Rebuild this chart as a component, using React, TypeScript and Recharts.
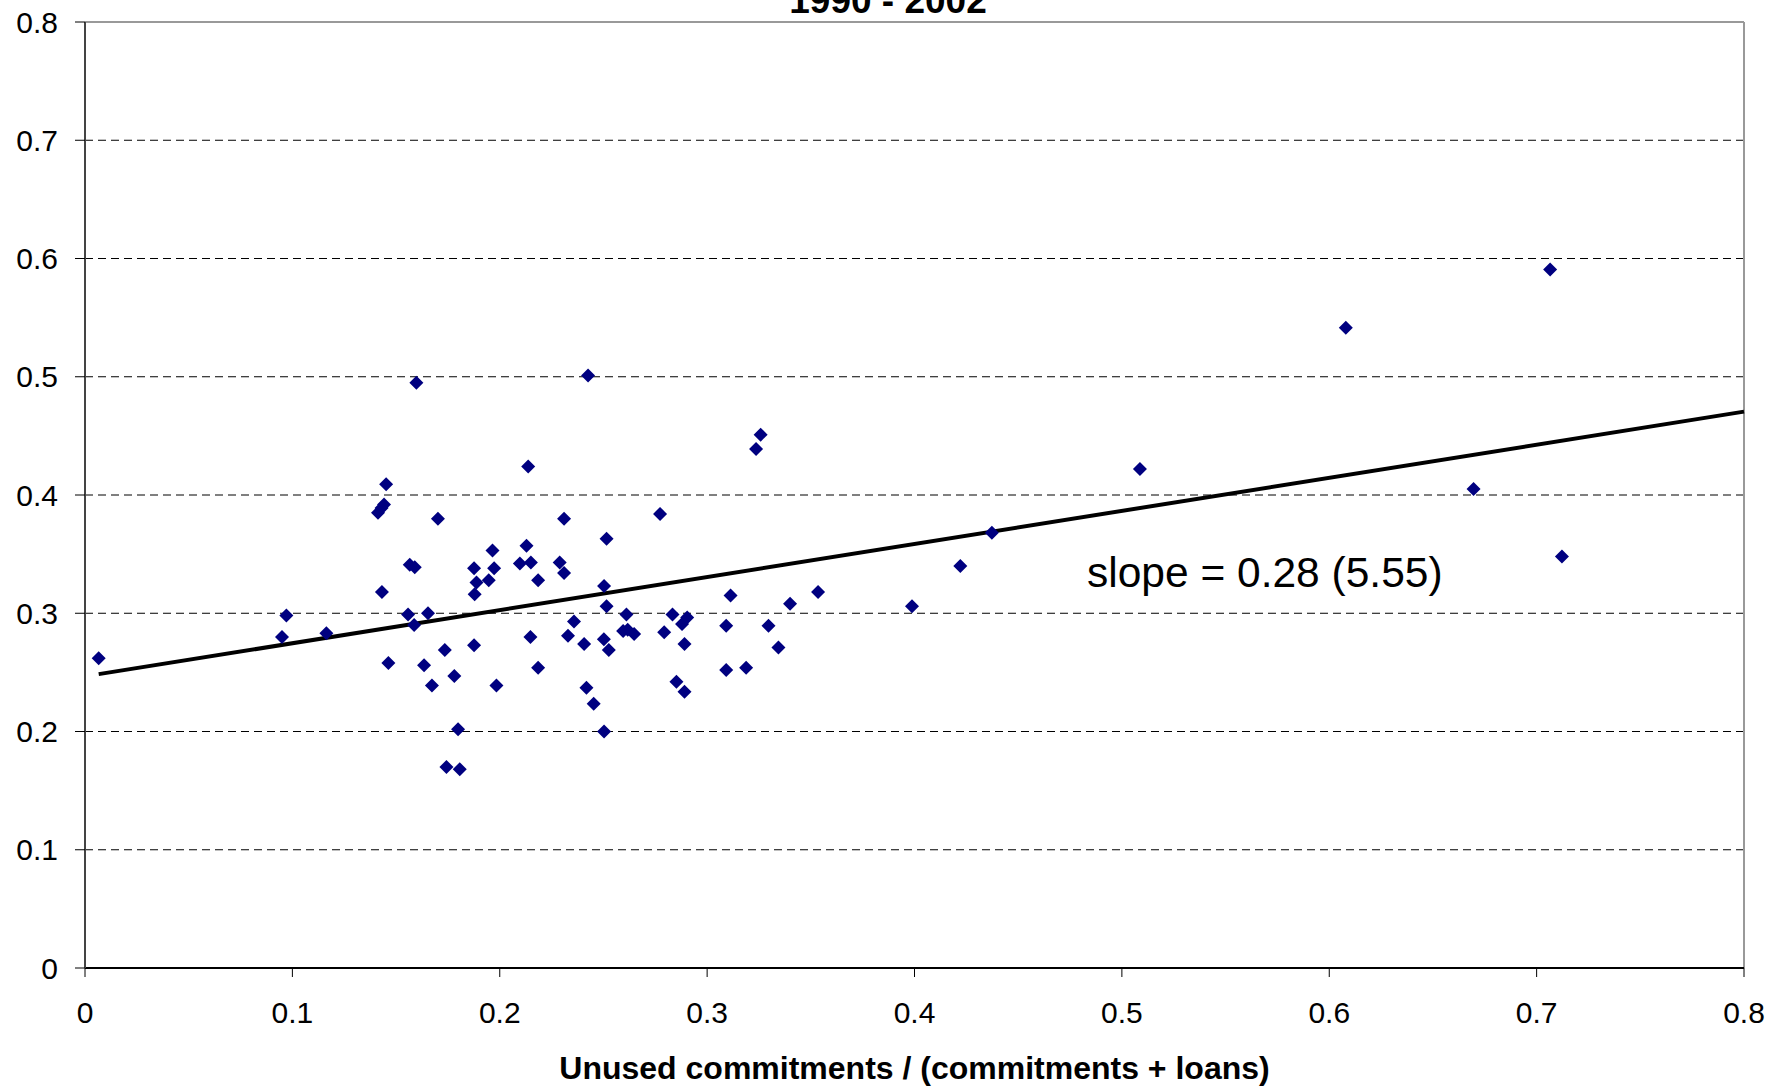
import {
  ScatterChart,
  Scatter,
  XAxis,
  YAxis,
  ReferenceLine,
  Label,
} from 'recharts'

// unused commitments / (commitments + loans)
const xs = [
  0.0066, 0.0971, 0.095, 0.1164, 0.1452, 0.1442, 0.143, 0.1413, 0.1598, 0.1702,
  0.1566, 0.159, 0.1432, 0.1558, 0.1654, 0.1587, 0.1463, 0.1735, 0.1635, 0.1673,
  0.1781, 0.1799, 0.1743, 0.1807, 0.1876, 0.1888, 0.1879, 0.1876, 0.1947, 0.1965,
  0.1973, 0.1984, 0.2137, 0.2129, 0.2097, 0.215, 0.2185, 0.2148, 0.2185, 0.231,
  0.2289, 0.231, 0.2358, 0.2329, 0.2407, 0.2418, 0.2453, 0.2426, 0.2503, 0.2515,
  0.2503, 0.2515, 0.2502, 0.2526, 0.2611, 0.2595, 0.2617, 0.2648, 0.2773, 0.2793,
  0.2833, 0.2904, 0.2879, 0.2891, 0.2852, 0.2891, 0.3258, 0.3236, 0.3113, 0.3092,
  0.3092, 0.3188, 0.3296, 0.3344, 0.34, 0.3535, 0.3988, 0.4221, 0.4373, 0.5087,
  0.608, 0.6696, 0.7065, 0.7122,
]
// y value
const ys = [
  0.262, 0.298, 0.28, 0.283, 0.409, 0.392, 0.389, 0.385, 0.495, 0.38,
  0.341, 0.339, 0.318, 0.299, 0.3, 0.29, 0.258, 0.269, 0.256, 0.239,
  0.247, 0.202, 0.17, 0.168, 0.338, 0.326, 0.316, 0.273, 0.328, 0.353,
  0.338, 0.239, 0.424, 0.357, 0.342, 0.343, 0.328, 0.28, 0.254, 0.38,
  0.343, 0.334, 0.293, 0.281, 0.274, 0.237, 0.2235, 0.501, 0.2, 0.363,
  0.323, 0.306, 0.278, 0.269, 0.299, 0.285, 0.286, 0.2825, 0.384, 0.284,
  0.299, 0.2965, 0.291, 0.274, 0.242, 0.2336, 0.451, 0.439, 0.315, 0.2895,
  0.252, 0.254, 0.2895, 0.271, 0.308, 0.318, 0.306, 0.34, 0.368, 0.422,
  0.5415, 0.405, 0.5906, 0.348,
]

const ticks = [0, 0.1, 0.2, 0.3, 0.4, 0.5, 0.6, 0.7, 0.8]
const gridValues = [0.1, 0.2, 0.3, 0.4, 0.5, 0.6, 0.7]

// fitted line end points
const trendX = [0.0066, 0.8]
const trendY = [0.2485, 0.4705]

const points = xs.map((x, i) => ({ x, y: ys[i] }))

const FONT = '"Liberation Sans", Arial, sans-serif'

function Diamond(props: any) {
  const { cx, cy } = props
  if (cx == null || cy == null) return null
  const r = 7
  return (
    <path
      d={`M${cx},${cy - r}L${cx + r},${cy}L${cx},${cy + r}L${cx - r},${cy}Z`}
      fill="#000080"
    />
  )
}

export default function App() {
  return (
    <div
      style={{
        position: 'absolute',
        left: 0,
        top: 0,
        width: 1786,
        height: 1086,
        overflow: 'hidden',
        background: '#fff',
        fontFamily: FONT,
      }}
    >
      {/* chart title, mostly cut off at the top */}
      <div
        style={{
          position: 'absolute',
          top: -18,
          left: 888,
          transform: 'translateX(-50%)',
          fontSize: 37,
          lineHeight: '37px',
          fontWeight: 'bold',
          whiteSpace: 'nowrap',
          color: '#000',
        }}
      >
        1990 - 2002
      </div>

      <ScatterChart
        width={1786}
        height={1086}
        margin={{ top: 22, right: 42, bottom: 0, left: 0 }}
      >
        <XAxis
          type="number"
          dataKey="x"
          domain={[0, 0.8]}
          ticks={ticks}
          interval={0}
          height={118}
          tickSize={9}
          tickMargin={25}
          tick={{ fontSize: 30, fill: '#000', fontFamily: FONT }}
          tickFormatter={(v: number) => String(v)}
          axisLine={{ stroke: '#000', strokeWidth: 2 }}
          tickLine={{ stroke: '#000', strokeWidth: 1 }}
        >
          <Label
            value="Unused commitments / (commitments + loans)"
            position="insideBottom"
            offset={7}
            style={{ fontSize: 32, fontWeight: 'bold', fill: '#000', fontFamily: FONT }}
          />
        </XAxis>
        <YAxis
          type="number"
          dataKey="y"
          domain={[0, 0.8]}
          ticks={ticks}
          interval={0}
          width={85}
          tickSize={10}
          tickMargin={17}
          tick={{ fontSize: 30, fill: '#000', fontFamily: FONT }}
          tickFormatter={(v: number) => String(v)}
          axisLine={{ stroke: '#444', strokeWidth: 2 }}
          tickLine={{ stroke: '#000', strokeWidth: 1 }}
        />

        {/* dashed horizontal grid */}
        {gridValues.map((v) => (
          <ReferenceLine key={v} y={v} stroke="#000" strokeWidth={1} strokeDasharray="8 5" />
        ))}
        {/* plot border, top and right */}
        <ReferenceLine y={0.8} stroke="#999" strokeWidth={2} />
        <ReferenceLine x={0.8} stroke="#999" strokeWidth={2} />

        <Scatter data={points} shape={Diamond} isAnimationActive={false} />

        {/* regression line */}
        <ReferenceLine
          segment={[
            { x: trendX[0], y: trendY[0] },
            { x: trendX[1], y: trendY[1] },
          ]}
          stroke="#000"
          strokeWidth={4}
        />
      </ScatterChart>

      {/* slope annotation */}
      <div
        style={{
          position: 'absolute',
          top: 552,
          left: 1087,
          fontSize: 42.5,
          lineHeight: '42px',
          whiteSpace: 'nowrap',
          color: '#000',
        }}
      >
        slope = 0.28 (5.55)
      </div>
    </div>
  )
}
